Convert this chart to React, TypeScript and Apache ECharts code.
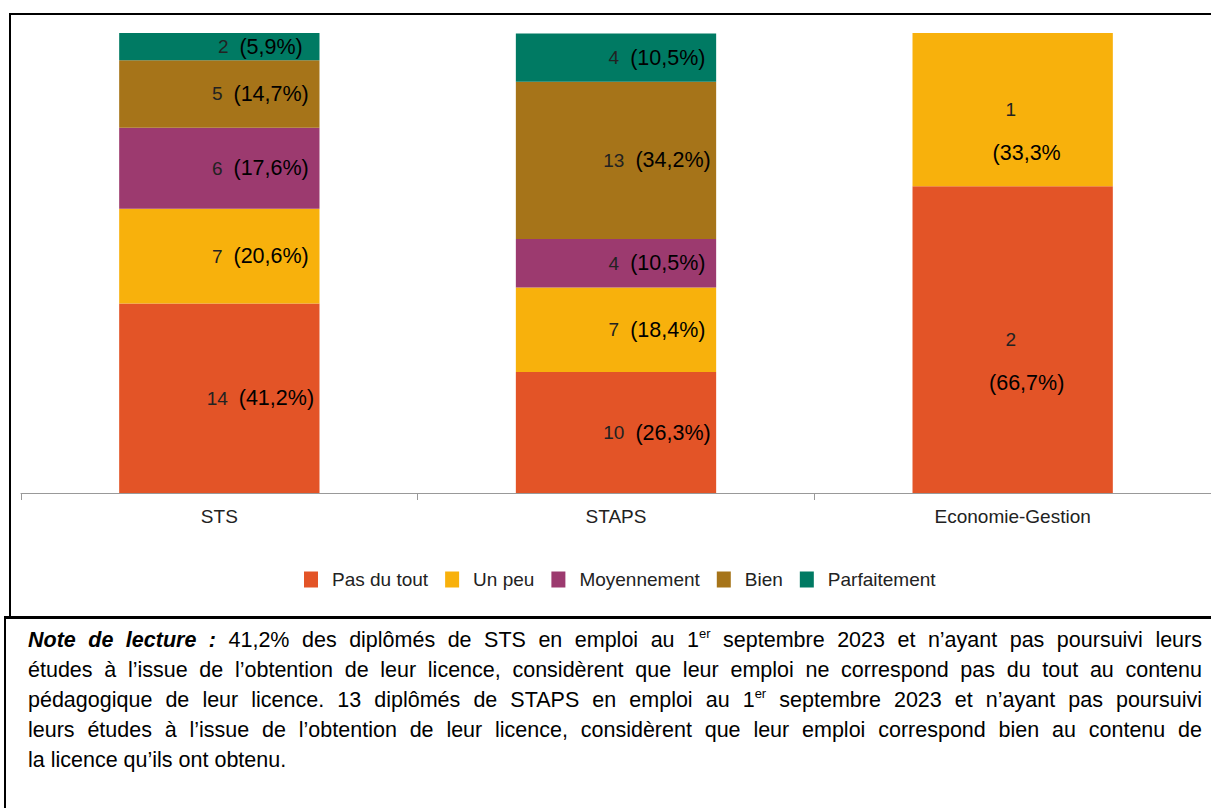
import React, { useEffect, useRef } from "react";
import * as echarts from "echarts";

const categories = ["STS", "STAPS", "Economie-Gestion"];
const seriesNames = ["Pas du tout", "Un peu", "Moyennement", "Bien", "Parfaitement"];
const seriesColors = ["#E35427", "#F8B10C", "#9C3A6F", "#A67419", "#007A63"];

// counts per category (STS, STAPS, Economie-Gestion)
const pasDuToutCount = [14, 10, 2];
const unPeuCount = [7, 7, 1];
const moyennementCount = [6, 4, null];
const bienCount = [5, 13, null];
const parfaitementCount = [2, 4, null];

// percentages per category
const pasDuToutPct = [41.2, 26.3, 66.7];
const unPeuPct = [20.6, 18.4, 33.3];
const moyennementPct = [17.6, 10.5, null];
const bienPct = [14.7, 34.2, null];
const parfaitementPct = [5.9, 10.5, null];

// percentage label texts as printed
const pasDuToutLabel = ["(41,2%)", "(26,3%)", "(66,7%)"];
const unPeuLabel = ["(20,6%)", "(18,4%)", "(33,3%"];
const moyennementLabel = ["(17,6%)", "(10,5%)", ""];
const bienLabel = ["(14,7%)", "(34,2%)", ""];
const parfaitementLabel = ["(5,9%)", "(10,5%)", ""];

const counts = [pasDuToutCount, unPeuCount, moyennementCount, bienCount, parfaitementCount];
const pcts = [pasDuToutPct, unPeuPct, moyennementPct, bienPct, parfaitementPct];
const pctLabels = [pasDuToutLabel, unPeuLabel, moyennementLabel, bienLabel, parfaitementLabel];

// note lines: "*" prefix = bold italic word, "^" = superscript split
const noteLines = [
  "*Note *de *lecture *: 41,2% des diplômés de STS en emploi au 1^er septembre 2023 et n’ayant pas poursuivi leurs",
  "études à l’issue de l’obtention de leur licence, considèrent que leur emploi ne correspond pas du tout au contenu",
  "pédagogique de leur licence. 13 diplômés de STAPS en emploi au 1^er septembre 2023 et n’ayant pas poursuivi",
  "leurs études à l’issue de l’obtention de leur licence, considèrent que leur emploi correspond bien au contenu de",
  "la licence qu’ils ont obtenu.",
];

const FONT = "'Liberation Sans', Arial, sans-serif";
const NOTE_SIZE = 21.5;
const SUP_SIZE = 13;

export default function App() {
  const ref = useRef<HTMLDivElement>(null);

  useEffect(() => {
    if (!ref.current) return;
    const chart = echarts.init(ref.current, null, { renderer: "svg" });

    const canvas = document.createElement("canvas");
    const ctx = canvas.getContext("2d")!;
    const measure = (t: string, font: string) => {
      ctx.font = font;
      return ctx.measureText(t).width;
    };
    const regFont = `${NOTE_SIZE}px 'Liberation Sans', Arial, sans-serif`;
    const boldFont = `italic bold ${NOTE_SIZE}px 'Liberation Sans', Arial, sans-serif`;
    const supFont = `${SUP_SIZE}px 'Liberation Sans', Arial, sans-serif`;

    const noteX = 28;
    const noteRight = 1202;
    const noteGraphics: any[] = [];
    noteLines.forEach((line, li) => {
      const words = line.split(" ");
      let total = 0;
      const parts = words.map((w) => {
        if (w.startsWith("*")) {
          const t = w.slice(1);
          total += measure(t, boldFont);
          return `{b|${t}}`;
        }
        if (w.includes("^")) {
          const [a, b] = w.split("^");
          total += measure(a, regFont) + measure(b, supFont);
          return `{r|${a}}{s|${b}}`;
        }
        total += measure(w, regFont);
        return `{r|${w}}`;
      });
      const last = li === noteLines.length - 1;
      let gap = measure(" ", regFont);
      if (!last && words.length > 1) {
        gap = Math.max(2, (noteRight - noteX - total) / (words.length - 1));
      }
      noteGraphics.push({
        type: "text",
        x: noteX,
        y: 640 + li * 30,
        style: {
          text: parts.join(`{g| }`),
          verticalAlign: "middle",
          align: "left",
          rich: {
            r: { fontSize: NOTE_SIZE, fontFamily: FONT, color: "#000", lineHeight: 26 },
            b: { fontSize: NOTE_SIZE, fontFamily: FONT, fontWeight: "bold", fontStyle: "italic", color: "#000", lineHeight: 26 },
            s: { fontSize: SUP_SIZE, fontFamily: FONT, color: "#000", lineHeight: 13, verticalAlign: "top" },
            g: { fontSize: NOTE_SIZE, fontFamily: FONT, width: gap, lineHeight: 26 },
          },
        },
      });
    });

    const series = seriesNames.map((name, si) => ({
      name,
      type: "bar",
      stack: "total",
      barWidth: "50.5%",
      itemStyle: { color: seriesColors[si] },
      data: pcts[si].map((v, ci) =>
        v == null
          ? null
          : ci === 2
          ? { value: v, label: { offset: [-2, 21.5] } }
          : { value: v }
      ),
      label: {
        show: true,
        position: "inside",
        offset: [41, 0],
        formatter: (p: any) => {
          const ci = p.dataIndex;
          const n = counts[si][ci];
          const t = pctLabels[si][ci];
          if (ci === 2) return `{n2|${n}}\n{p2|${t}}`;
          return `{n|${n}}{p|${t}}`;
        },
        rich: {
          n: { fontSize: 19, color: "#222", fontFamily: FONT },
          p: { fontSize: 21.5, color: "#000", fontFamily: FONT, padding: [0, 0, 0, 11] },
          n2: { fontSize: 19, color: "#222", fontFamily: FONT, lineHeight: 43 },
          p2: { fontSize: 21.5, color: "#000", fontFamily: FONT, lineHeight: 43, padding: [0, 0, 0, 32] },
        },
      },
    }));

    chart.setOption({
      animation: false,
      backgroundColor: "#fff",
      grid: { left: 21, top: 33, width: 1192, height: 460, containLabel: false },
      xAxis: {
        type: "category",
        data: categories,
        axisLine: { lineStyle: { color: "#999", width: 1 } },
        axisTick: { show: true, length: 7, lineStyle: { color: "#999" } },
        axisLabel: { color: "#222", fontSize: 19, fontFamily: FONT, margin: 14 },
      },
      yAxis: { type: "value", min: 0, max: 100, show: false },
      legend: {
        data: seriesNames,
        left: 299,
        top: 565,
        icon: "rect",
        itemWidth: 14,
        itemHeight: 16,
        itemGap: 17,
        textStyle: { fontSize: 19, color: "#222", fontFamily: FONT, padding: [0, 0, 0, 9] },
      },
      series,
      graphic: [
        { type: "line", shape: { x1: 9, y1: 14, x2: 1211, y2: 14 }, style: { stroke: "#000", lineWidth: 2 } },
        { type: "line", shape: { x1: 10, y1: 14, x2: 10, y2: 617 }, style: { stroke: "#000", lineWidth: 2 } },
        { type: "line", shape: { x1: 4, y1: 617.5, x2: 1211, y2: 617.5 }, style: { stroke: "#000", lineWidth: 3 } },
        { type: "line", shape: { x1: 5, y1: 617, x2: 5, y2: 808 }, style: { stroke: "#000", lineWidth: 2 } },
        ...noteGraphics,
      ],
    });

    return () => chart.dispose();
  }, []);

  return (
    <div
      ref={ref}
      style={{ position: "absolute", left: 0, top: 0, width: 1211, height: 808 }}
    />
  );
}
